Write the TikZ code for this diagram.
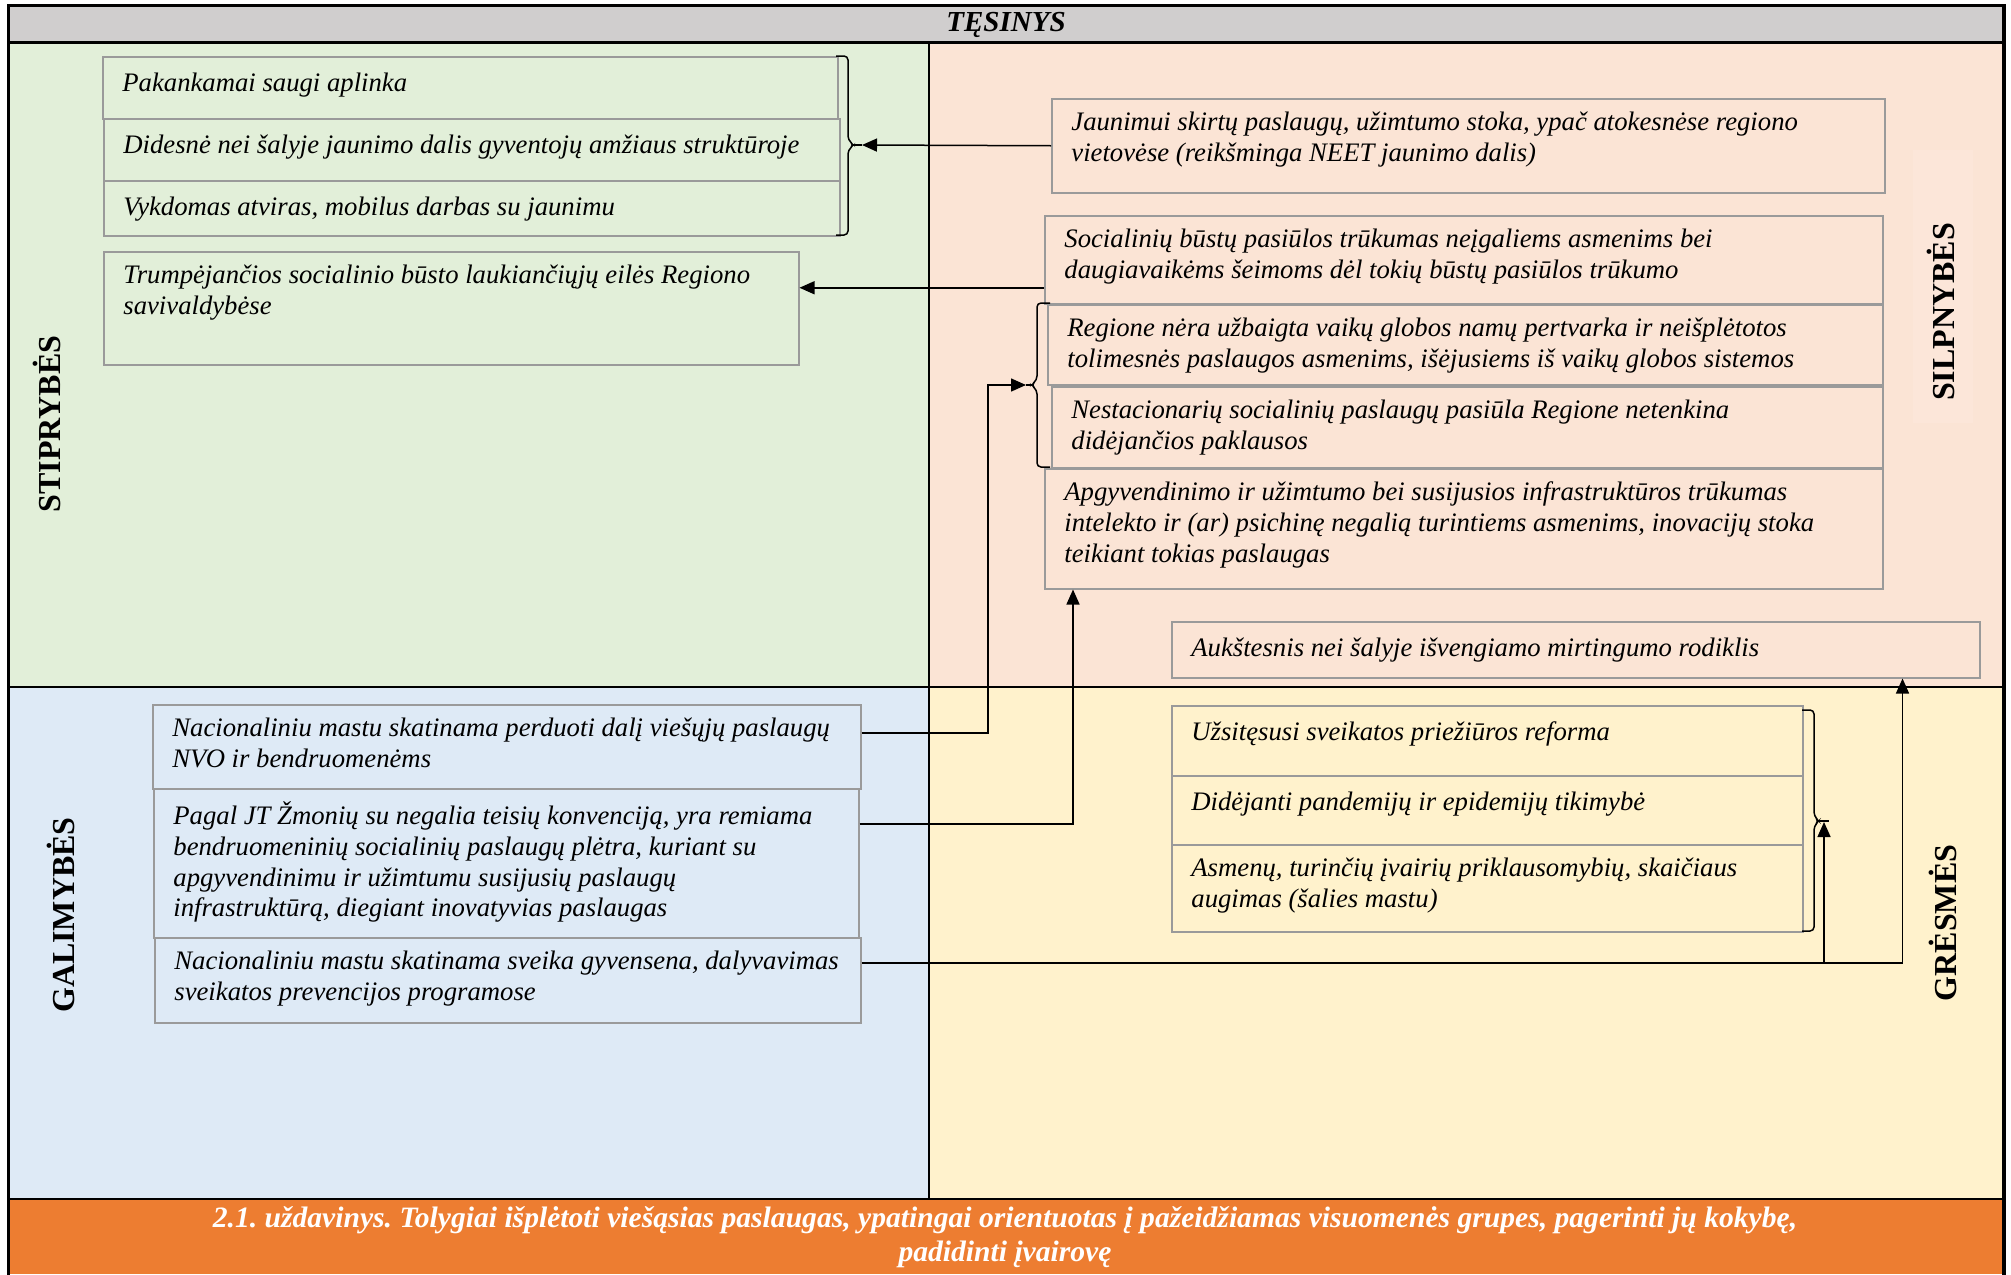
\documentclass[tikz,border=0pt]{standalone}
\usepackage{fontspec}
\setmainfont{Liberation Serif}
\usetikzlibrary{arrows.meta}
\definecolor{hdrgray}{HTML}{D0CECE}
\definecolor{sgreen}{HTML}{E2EFD9}
\definecolor{wpink}{HTML}{FBE4D5}
\definecolor{pinklt}{HTML}{FCE6D9}
\definecolor{oblue}{HTML}{DEEAF6}
\definecolor{tyellow}{HTML}{FFF2CC}
\definecolor{orng}{HTML}{ED7D31}
\definecolor{boxgray}{HTML}{9A9A9A}
\newcommand{\boxfont}{\fontsize{13.35}{15.3}\selectfont\itshape}
\newcommand{\swbox}[6]{%
  \node[boxst, minimum width={(#4-#2)*0.5pt}, minimum height={(#5-#3)*0.5pt}] (#1) at (#2,#3) {};
  \node[txtst] (#1t) at ([xshift=10pt, yshift=-6.8pt]#1.north west) {#6};}
\frenchspacing
\begin{document}
\begin{tikzpicture}[x=0.5pt,y=-0.5pt,
  boxst/.style={draw=boxgray, line width=0.75pt, inner sep=0pt, anchor=north west},
  txtst/.style={anchor=north west, inner sep=0pt, align=left, font=\boxfont, execute at begin node=\strut},
  arr/.style={line width=0.75pt, -{Triangle[length=7.5pt,width=6.5pt]}},
  brk/.style={line width=0.75pt, rounded corners=2pt},
  lbl/.style={font=\fontsize{16}{19}\selectfont\bfseries, inner sep=0pt, rotate=90}]
\useasboundingbox (0,0) rectangle (2011,1274);
\fill[white] (0,0) rectangle (2011,1274);
% quadrants
\fill[hdrgray] (8.5,5.5) rectangle (2004,42);
\fill[sgreen] (8.5,42) rectangle (929,687);
\fill[wpink] (929,42) rectangle (2004,687);
\fill[oblue] (8.5,687) rectangle (929,1199);
\fill[tyellow] (929,687) rectangle (2004,1199);
\fill[orng] (8.5,1199) rectangle (2004,1274);
\fill[pinklt] (1913,150) rectangle (1973,423);
% header
\node[font=\fontsize{14.5}{16}\selectfont\bfseries\itshape, anchor=base, inner sep=0pt] (hdr) at (1006,32) {TĘSINYS};
% side labels
\node[lbl] (lstip) at (47,424) {STIPRYBĖS};
\node[lbl] (lgal) at (61,915) {GALIMYBĖS};
\node[lbl] (lsilp) at (1941,312) {SILPNYBĖS};
\node[lbl] (lgres) at (1943,923) {GRĖSMĖS};
% strengths
\swbox{s1}{102}{56}{837}{118}{Pakankamai saugi aplinka}
\swbox{s2}{103}{118}{839}{180}{Didesnė nei šalyje jaunimo dalis gyventojų amžiaus struktūroje}
\swbox{s3}{103}{180}{839}{235}{Vykdomas atviras, mobilus darbas su jaunimu}
\swbox{s4}{103}{251}{798}{364}{Trumpėjančios socialinio būsto laukiančiųjų eilės Regiono\\savivaldybėse}
% weaknesses
\swbox{w1}{1051}{98}{1884}{192}{Jaunimui skirtų paslaugų, užimtumo stoka, ypač atokesnėse regiono\\vietovėse (reikšminga NEET jaunimo dalis)}
\swbox{w2}{1044}{215}{1882}{303}{Socialinių būstų pasiūlos trūkumas neįgaliems asmenims bei\\daugiavaikėms šeimoms dėl tokių būstų pasiūlos trūkumo}
\swbox{w3}{1047}{304}{1882}{384}{Regione nėra užbaigta vaikų globos namų pertvarka ir neišplėtotos\\tolimesnės paslaugos asmenims, išėjusiems iš vaikų globos sistemos}
\swbox{w4}{1051}{386}{1882}{467}{Nestacionarių socialinių paslaugų pasiūla Regione netenkina\\didėjančios paklausos}
\swbox{w5}{1044}{468}{1882}{588}{Apgyvendinimo ir užimtumo bei susijusios infrastruktūros trūkumas\\intelekto ir (ar) psichinę negalią turintiems asmenims, inovacijų stoka\\teikiant tokias paslaugas}
\swbox{w6}{1171}{621}{1979}{677}{Aukštesnis nei šalyje išvengiamo mirtingumo rodiklis}
% opportunities
\swbox{o1}{152}{704}{860}{788}{Nacionaliniu mastu skatinama perduoti dalį viešųjų paslaugų\\NVO ir bendruomenėms}
\swbox{o2}{153}{788}{858}{937}{Pagal JT Žmonių su negalia teisių konvenciją, yra remiama\\bendruomeninių socialinių paslaugų plėtra, kuriant su\\apgyvendinimu ir užimtumu susijusių paslaugų\\infrastruktūrą, diegiant inovatyvias paslaugas}
\swbox{o3}{154}{937}{860}{1022}{Nacionaliniu mastu skatinama sveika gyvensena, dalyvavimas\\sveikatos prevencijos programose}
% threats
\swbox{t1}{1171}{705}{1802}{775}{Užsitęsusi sveikatos priežiūros reforma}
\swbox{t2}{1171}{775}{1802}{844}{Didėjanti pandemijų ir epidemijų tikimybė}
\swbox{t3}{1171}{844}{1802}{931}{Asmenų, turinčių įvairių priklausomybių, skaičiaus\\augimas (šalies mastu)}
% brackets
\draw[brk] (836,56) -- (848,56) -- (848,140) -- (854,145) -- (848,150) -- (848,235) -- (836,235);
\coordinate (sbtip) at (862,145);
\draw[line width=0.75pt] (853,145) -- (sbtip);
\draw[brk] (1050,303) -- (1037,303) -- (1037,380) -- (1031,385) -- (1037,390) -- (1037,467) -- (1050,467);
\coordinate (wbtip) at (1026,385);
\draw[line width=0.75pt] (1032,385) -- (wbtip);
\draw[brk] (1802,710) -- (1814,710) -- (1814,816) -- (1819,821) -- (1814,826) -- (1814,931) -- (1802,931);
\draw[line width=0.75pt] (1817,821) -- (1829,821);
\coordinate (tbtip) at (1824,822);
% connectors
\draw[arr] (w1.west) -- (sbtip);
\coordinate (a2s) at ([yshift=-14pt]w2.west);
\draw[arr] (a2s) -- (s4.east |- a2s);
\coordinate (a3s) at ([yshift=7pt]o1.east);
\coordinate (a3m) at (988,385);
\draw[arr] (a3s) -| (a3m) -- (wbtip);
\coordinate (a4s) at ([yshift=19.75pt]o2.east);
\coordinate (a4e) at ([xshift=14.5pt]w5.south west);
\draw[arr] (a4s) -| (a4e);
\coordinate (a5s) at ([yshift=8.75pt]o3.east);
\coordinate (a5e) at ([xshift=-39pt]w6.south east);
\draw[arr] (a5s) -| (a5e);
\coordinate (a6j) at (a5s -| tbtip);
\draw[arr] (a6j) -- (tbtip);
% frame lines
\draw[line width=1.5pt] (8.5,42) -- (2004,42);
\draw[line width=1.4pt] (8.5,687) -- (2004,687);
\draw[line width=0.75pt] (929,42) -- (929,1199);
\draw[line width=1.1pt] (8.5,1199) -- (2004,1199);
\draw[line width=1.75pt] (8.5,1280) -- (8.5,5.5) -- (2004,5.5) -- (2004,1280);
% task band
\node[font=\fontsize{14.8}{17}\selectfont\bfseries\itshape, text=white, align=center, anchor=north, inner sep=0pt, execute at begin node=\strut] (task) at (1005,1206) {2.1. uždavinys. Tolygiai išplėtoti viešąsias paslaugas, ypatingai orientuotas į pažeidžiamas visuomenės grupes, pagerinti jų kokybę,\\padidinti įvairovę};
\end{tikzpicture}
\end{document}
